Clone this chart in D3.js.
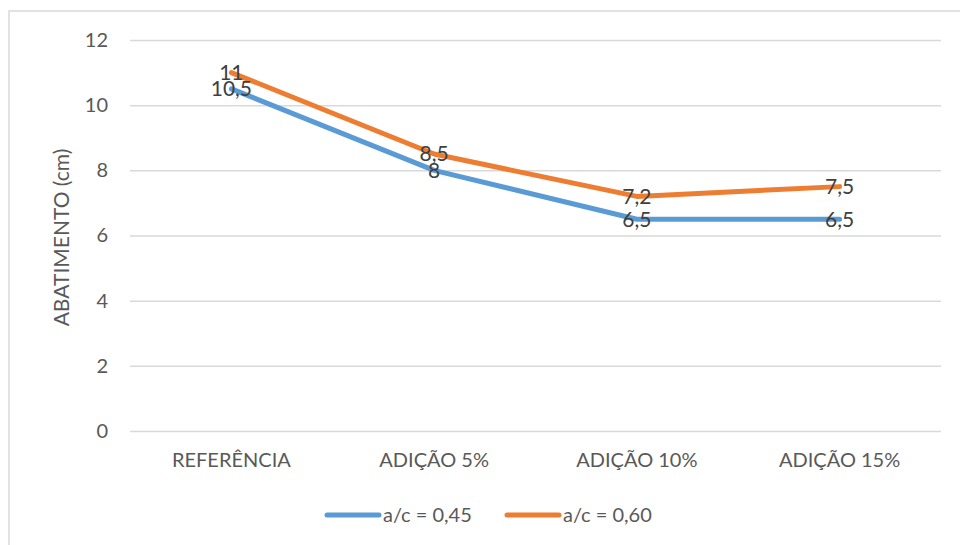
<!DOCTYPE html>
<html>
<head>
<meta charset="utf-8">
<script src="https://cdn.jsdelivr.net/npm/d3@7/dist/d3.min.js"></script>
<style>
  html, body { margin: 0; padding: 0; background: #fff; }
  svg { display: block; }
  text { font-family: Lato, "Open Sans", sans-serif; }
</style>
</head>
<body>
<svg id="chart" width="960" height="545"></svg>
<script>
// Slump (abatimento) per mix, two water/cement ratios
const categories = ["REFERÊNCIA", "ADIÇÃO 5%", "ADIÇÃO 10%", "ADIÇÃO 15%"];
const seriesNames = ["a/c = 0,45", "a/c = 0,60"];
const valuesAc045 = [10.5, 8, 6.5, 6.5];
const valuesAc060 = [11, 8.5, 7.2, 7.5];
const yTicks = [0, 2, 4, 6, 8, 10, 12];
const colors = ["#5B9BD5", "#ED7D31"];

const series = [
  { name: seriesNames[0], values: valuesAc045, color: colors[0] },
  { name: seriesNames[1], values: valuesAc060, color: colors[1] }
];

const svg = d3.select("#chart");
const W = 960, H = 545;
const plot = { left: 130, right: 941, top: 40, bottom: 431 };

// chart frame
svg.append("rect")
  .attr("x", 9).attr("y", 11)
  .attr("width", W + 10).attr("height", H + 10)
  .attr("fill", "#fff")
  .attr("stroke", "#d9d9d9").attr("stroke-width", 1.5);

const x = d3.scaleBand().domain(categories).range([plot.left, plot.right]);
const y = d3.scaleLinear().domain([0, 12]).range([plot.bottom, plot.top]);
const fmt = v => String(v).replace(".", ",");

// horizontal gridlines + y labels
const yAxis = d3.axisLeft(y).tickValues(yTicks).tickSize(-(plot.right - plot.left)).tickPadding(22).tickFormat(d => d);
const gy = svg.append("g").attr("transform", `translate(${plot.left},0)`).call(yAxis);
gy.select(".domain").remove();
gy.selectAll(".tick line").attr("stroke", "#d9d9d9").attr("stroke-width", 1.5);
gy.selectAll(".tick text").attr("fill", "#595959").attr("font-size", 20);

// category labels
const xAxis = d3.axisBottom(x).tickSize(0).tickPadding(22);
const gx = svg.append("g").attr("transform", `translate(0,${plot.bottom})`).call(xAxis);
gx.select(".domain").remove();
gx.selectAll(".tick text").attr("fill", "#595959").attr("font-size", 20);

// y axis title
svg.append("text")
  .attr("transform", `translate(62,${(plot.top + plot.bottom) / 2 + 2}) rotate(-90)`)
  .attr("text-anchor", "middle")
  .attr("dy", "0.35em")
  .attr("fill", "#595959").attr("font-size", 21)
  .text("ABATIMENTO (cm)");

// lines
const line = d3.line()
  .x((d, i) => x(categories[i]) + x.bandwidth() / 2)
  .y(d => y(d));

svg.selectAll("path.series").data(series).enter().append("path")
  .attr("class", "series")
  .attr("d", d => line(d.values))
  .attr("fill", "none")
  .attr("stroke", d => d.color)
  .attr("stroke-width", 5)
  .attr("stroke-linejoin", "round")
  .attr("stroke-linecap", "round");

// data labels centered on each point
series.forEach(s => {
  svg.append("g").selectAll("text").data(s.values).enter().append("text")
    .attr("x", (d, i) => x(categories[i]) + x.bandwidth() / 2)
    .attr("y", d => y(d))
    .attr("dy", "0.35em")
    .attr("text-anchor", "middle")
    .attr("fill", "#404040").attr("font-size", 21)
    .text(d => fmt(d));
});

// legend
const legend = svg.append("g");
const legendItems = [
  { s: series[0], x0: 327 },
  { s: series[1], x0: 507 }
];
legendItems.forEach(it => {
  legend.append("line")
    .attr("x1", it.x0).attr("x2", it.x0 + 52)
    .attr("y1", 515).attr("y2", 515)
    .attr("stroke", it.s.color).attr("stroke-width", 5)
    .attr("stroke-linecap", "round");
  legend.append("text")
    .attr("x", it.x0 + 56).attr("y", 515).attr("dy", "0.35em")
    .attr("fill", "#595959").attr("font-size", 20)
    .text(it.s.name);
});
</script>
</body>
</html>
